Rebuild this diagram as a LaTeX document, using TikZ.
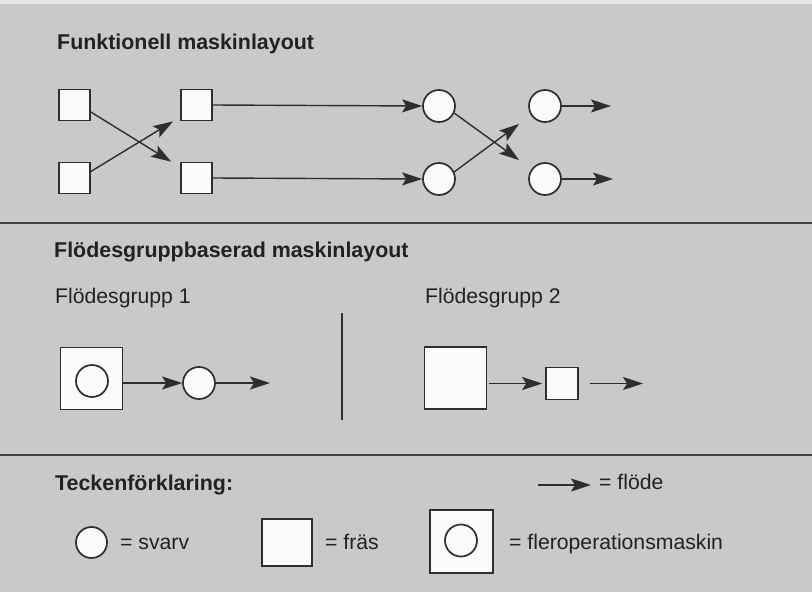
\documentclass[tikz,border=0pt]{standalone}
\usepackage{fontspec}
\setmainfont{Liberation Sans}
\usetikzlibrary{arrows.meta,calc}
\definecolor{bg}{HTML}{C9C9C9}
\definecolor{ink}{HTML}{2E2E2E}
\definecolor{txt}{HTML}{222222}
\definecolor{paper}{HTML}{FAFAFA}
\tikzset{
  sq/.style={draw=ink,fill=paper,line width=1.7pt,inner sep=0pt,minimum width=#1,minimum height=#1,rectangle},
  rnd/.style={draw=ink,fill=paper,line width=1.7pt,inner sep=0pt,minimum size=#1,circle},
  flow/.style={draw=ink,line width=1.4pt,-{Stealth[length=20pt,width=13pt,inset=4pt]}},
  divider/.style={draw=ink!90,line width=2pt},
  head/.style={anchor=base west,text=txt,inner sep=0pt,font=\fontsize{21.4}{25}\selectfont\bfseries},
  lbl/.style={anchor=base west,text=txt,inner sep=0pt,font=\fontsize{21.2}{25}\selectfont},
}
\begin{document}
\begin{tikzpicture}[x=1pt,y=-1pt]
\fill[bg] (0,0) rectangle (812,592);
\fill[bg!50!white] (0,0) rectangle (812,4);
\useasboundingbox (0,0) rectangle (812,592);

% ---------- section 1 ----------
\node[head] (t1) at (57,49) {Funktionell maskinlayout};
\node[sq=31pt] (s11) at (74.5,105) {};
\node[sq=31pt] (s12) at (74.5,178) {};
\node[sq=31pt] (s21) at (196.5,105) {};
\node[sq=31pt] (s22) at (196.5,178) {};
\node[rnd=32pt] (c11) at (439,106) {};
\node[rnd=32pt] (c12) at (439,179) {};
\node[rnd=32pt] (c21) at (545,106) {};
\node[rnd=32pt] (c22) at (545,179) {};
\coordinate (o1) at (611,106);
\coordinate (o2) at (613,179);

\draw[flow] ([yshift=-7pt]s11.east) -- ([xshift=-9pt]s22.north west);
\draw[flow] ([yshift=6.5pt]s12.east) -- ([xshift=-7pt]s21.south west);
\draw[flow] (s21.east) -- (c11.west);
\draw[flow] (s22.east) -- (c12.west);
\draw[flow] (c11.-25) -- ($(c22.135)+(-14,-7)$);
\draw[flow] (c12.25) -- ($(c21.-135)+(-14,6)$);
\draw[flow] (c21.east) -- (o1);
\draw[flow] (c22.east) -- (o2);

\draw[divider] (0,223) -- (812,223);

% ---------- section 2 ----------
\node[head] (t2) at (54,257) {Flödesgruppbaserad maskinlayout};
\node[lbl] (g1) at (55,303) {Flödesgrupp 1};
\node[lbl] (g2) at (425,303) {Flödesgrupp 2};

\node[sq=62pt] (m1) at (91.5,378.5) {};
\node[rnd=32pt] (m1c) at (92,381) {};
\node[rnd=32pt] (f1c) at (199,383) {};
\coordinate (f1o) at (270,383);
\draw[flow] (f1c -| m1.east) -- (f1c.west);
\draw[flow] (f1c.east) -- (f1o);

\coordinate (vt) at (342,313);
\coordinate (vb) at (342,420);
\draw[draw=ink,line width=1.8pt] (vt) -- (vb);

\node[sq=62pt] (m2) at (455.5,378) {};
\node[sq=32pt] (f2s) at (562,383.5) {};
\coordinate (f2a) at (590,383.5);
\coordinate (f2o) at (643,383.5);
\draw[flow] ([xshift=2pt]f2s -| m2.east) -- ([xshift=-3pt]f2s.west);
\draw[flow] (f2a) -- (f2o);

\draw[divider] (0,455) -- (812,455);

% ---------- legend ----------
\node[head] (t3) at (55,490) {Teckenförklaring:};
\coordinate (la) at (538,485);
\coordinate (lb) at (591,485);
\draw[flow] (la) -- (lb);
\node[lbl] (lf) at (599,489) {= flöde};

\node[rnd=31pt] (lc) at (91.5,542.5) {};
\node[lbl] (ls) at (120,549) {= svarv};
\node[draw=ink,fill=paper,line width=1.7pt,inner sep=0pt,minimum width=50pt,minimum height=47pt] (lq) at (287,542.5) {};
\node[lbl] (lfr) at (325,549) {= fräs};
\node[sq=63pt] (lm) at (461.5,541.5) {};
\node[rnd=32pt] (lmc) at (461,540.5) {};
\node[lbl] (lmt) at (509,549) {= fleroperationsmaskin};
\end{tikzpicture}
\end{document}
